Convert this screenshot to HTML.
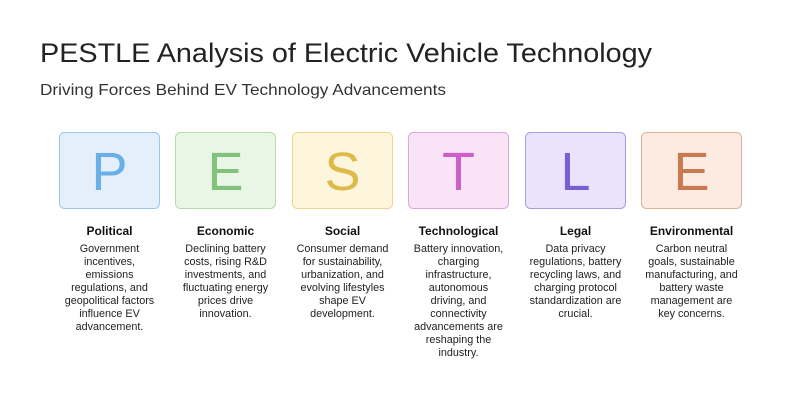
<!DOCTYPE html>
<html><head><meta charset="utf-8"><style>
html,body{margin:0;padding:0;background:#fff;width:804px;height:410px;overflow:hidden}
svg text{font-family:"Liberation Sans",sans-serif}
</style></head><body>
<svg width="804" height="410" viewBox="0 0 804 410" xmlns="http://www.w3.org/2000/svg">
<text x="40" y="62" font-size="27" fill="#222" textLength="612" lengthAdjust="spacingAndGlyphs">PESTLE Analysis of Electric Vehicle Technology</text>
<text x="40" y="95" font-size="16" fill="#333" textLength="406" lengthAdjust="spacingAndGlyphs">Driving Forces Behind EV Technology Advancements</text>

<g font-size="54" text-anchor="middle">
<rect x="59.5" y="132.5" width="100" height="76" rx="5" fill="#e3f0fc" stroke="#9cc8ef"/>
<text x="109.5" y="190" fill="#6aafe6">P</text>
<rect x="175.5" y="132.5" width="100" height="76" rx="5" fill="#e9f6e6" stroke="#b5dcae"/>
<text x="225.5" y="190" fill="#82c27c">E</text>
<rect x="292.5" y="132.5" width="100" height="76" rx="5" fill="#fdf5dc" stroke="#efd68c"/>
<text x="342.5" y="190" fill="#ddbb4a">S</text>
<rect x="408.5" y="132.5" width="100" height="76" rx="5" fill="#f8e4f6" stroke="#e0a6dd"/>
<text x="458.5" y="190" fill="#cc5fc8">T</text>
<rect x="525.5" y="132.5" width="100" height="76" rx="5" fill="#e9e4fb" stroke="#a99be6"/>
<text x="575.5" y="190" fill="#7a5fd0">L</text>
<rect x="641.5" y="132.5" width="100" height="76" rx="5" fill="#fbebe0" stroke="#ddb295"/>
<text x="691.5" y="190" fill="#c97a50">E</text>
</g>

<g font-size="12" font-weight="bold" fill="#111" text-anchor="middle">
<text x="109.5" y="235">Political</text>
<text x="225.5" y="235">Economic</text>
<text x="342.5" y="235">Social</text>
<text x="458.5" y="235">Technological</text>
<text x="575.5" y="235">Legal</text>
<text x="691.5" y="235">Environmental</text>
</g>

<g font-size="10.8" fill="#222" text-anchor="middle">
<text x="109.5" y="252">Government</text>
<text x="109.5" y="265">incentives,</text>
<text x="109.5" y="278">emissions</text>
<text x="109.5" y="291">regulations, and</text>
<text x="109.5" y="304">geopolitical factors</text>
<text x="109.5" y="317">influence EV</text>
<text x="109.5" y="330">advancement.</text>

<text x="225.5" y="252">Declining battery</text>
<text x="225.5" y="265">costs, rising R&amp;D</text>
<text x="225.5" y="278">investments, and</text>
<text x="225.5" y="291">fluctuating energy</text>
<text x="225.5" y="304">prices drive</text>
<text x="225.5" y="317">innovation.</text>

<text x="342.5" y="252">Consumer demand</text>
<text x="342.5" y="265">for sustainability,</text>
<text x="342.5" y="278">urbanization, and</text>
<text x="342.5" y="291">evolving lifestyles</text>
<text x="342.5" y="304">shape EV</text>
<text x="342.5" y="317">development.</text>

<text x="458.5" y="252">Battery innovation,</text>
<text x="458.5" y="265">charging</text>
<text x="458.5" y="278">infrastructure,</text>
<text x="458.5" y="291">autonomous</text>
<text x="458.5" y="304">driving, and</text>
<text x="458.5" y="317">connectivity</text>
<text x="458.5" y="330">advancements are</text>
<text x="458.5" y="343">reshaping the</text>
<text x="458.5" y="356">industry.</text>

<text x="575.5" y="252">Data privacy</text>
<text x="575.5" y="265">regulations, battery</text>
<text x="575.5" y="278">recycling laws, and</text>
<text x="575.5" y="291">charging protocol</text>
<text x="575.5" y="304">standardization are</text>
<text x="575.5" y="317">crucial.</text>

<text x="691.5" y="252">Carbon neutral</text>
<text x="691.5" y="265">goals, sustainable</text>
<text x="691.5" y="278">manufacturing, and</text>
<text x="691.5" y="291">battery waste</text>
<text x="691.5" y="304">management are</text>
<text x="691.5" y="317">key concerns.</text>
</g>
</svg>
</body></html>
